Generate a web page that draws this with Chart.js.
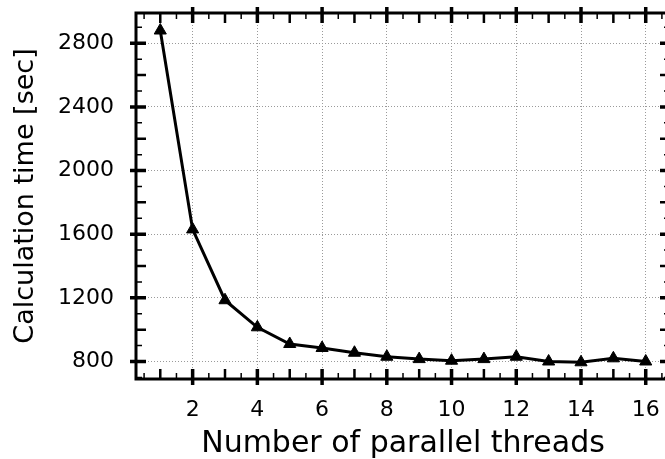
<!DOCTYPE html>
<html lang="en">
<head>
<meta charset="UTF-8">
<title>Calculation time vs threads</title>
<script src="https://cdn.jsdelivr.net/npm/chart.js"></script>
<style>
  * { margin: 0; padding: 0; box-sizing: border-box; }
  html, body { width: 665px; height: 459px; overflow: hidden; background: #fff; }
  #wrap { width: 680px; height: 459px; }
</style>
</head>
<body>
<div id="wrap"><canvas id="chart" width="680" height="459"></canvas></div>
<script>
// data
const threads = [1, 2, 3, 4, 5, 6, 7, 8, 9, 10, 11, 12, 13, 14, 15, 16];
const calcTime = [2880, 1630, 1185, 1015, 910, 885, 855, 830, 815, 805, 815, 830, 800, 795, 820, 800];

const xTickLabels = [2, 4, 6, 8, 10, 12, 14, 16];
const yTickLabels = [800, 1200, 1600, 2000, 2400, 2800];

const FONT = "'DejaVu Sans', sans-serif";

// gnuplot-style frame with inward/outward ticks on all four sides
const framePlugin = {
  id: 'frame',
  afterDraw(chart) {
    const { ctx, chartArea: a, scales: { x, y } } = chart;
    ctx.save();
    ctx.strokeStyle = '#000';
    ctx.lineCap = 'butt';

    for (let v = 0.5; v <= 16.5; v += 0.5) {
      const px = x.getPixelForValue(v);
      let w, inLen, outLen;
      if (v % 2 === 0) { w = 3.5; inLen = 10; outLen = 6; }
      else if (v % 1 === 0) { w = 2.5; inLen = 10; outLen = 0; }
      else { w = 1.5; inLen = 6; outLen = 0; }
      ctx.lineWidth = w;
      ctx.beginPath();
      ctx.moveTo(px, a.bottom + outLen); ctx.lineTo(px, a.bottom - inLen);
      ctx.moveTo(px, a.top - outLen); ctx.lineTo(px, a.top + inLen);
      ctx.stroke();
    }

    for (let v = 700; v <= 2900; v += 100) {
      const py = y.getPixelForValue(v);
      let w, inLen, outLen;
      if (v % 400 === 0) { w = 3.5; inLen = 10; outLen = 6; }
      else if (v % 200 === 0) { w = 2.5; inLen = 10; outLen = 0; }
      else { w = 1.5; inLen = 6; outLen = 0; }
      ctx.lineWidth = w;
      ctx.beginPath();
      ctx.moveTo(a.left - outLen, py); ctx.lineTo(a.left + inLen, py);
      ctx.moveTo(a.right + outLen, py); ctx.lineTo(a.right - inLen, py);
      ctx.stroke();
    }

    ctx.lineWidth = 3;
    ctx.strokeRect(a.left, a.top, a.right - a.left, a.bottom - a.top);
    ctx.restore();
  }
};

new Chart(document.getElementById('chart').getContext('2d'), {
  type: 'line',
  data: {
    datasets: [{
      data: threads.map((t, i) => ({ x: t, y: calcTime[i] })),
      borderColor: '#000',
      backgroundColor: '#000',
      borderWidth: 3,
      pointStyle: 'triangle',
      pointRadius: 7,
      pointBorderWidth: 1,
      tension: 0
    }]
  },
  options: {
    responsive: false,
    animation: false,
    layout: { padding: { top: 13, right: 10, left: 0, bottom: 0 } },
    plugins: { legend: { display: false }, tooltip: { enabled: false } },
    scales: {
      x: {
        type: 'linear',
        min: 0.25,
        max: 16.75,
        afterBuildTicks: s => { s.ticks = xTickLabels.map(v => ({ value: v })); },
        afterFit: s => { s.height = 80; s.paddingLeft = 0; s.paddingRight = 0; },
        grid: { color: '#9a9a9a', lineWidth: 1, drawTicks: false },
        border: { display: false, dash: [1, 2] },
        ticks: { color: '#000', padding: 18, maxRotation: 0, font: { family: FONT, size: 22 }, callback: v => String(v) },
        title: {
          display: true,
          text: 'Number of parallel threads',
          color: '#000',
          font: { family: FONT, size: 30, lineHeight: 1 },
          padding: { top: 0, bottom: 0 }
        }
      },
      y: {
        min: 690,
        max: 2990,
        afterBuildTicks: s => { s.ticks = yTickLabels.map(v => ({ value: v })); },
        afterFit: s => { s.width = 136; s.paddingTop = 0; s.paddingBottom = 0; },
        grid: { color: '#9a9a9a', lineWidth: 1, drawTicks: false },
        border: { display: false, dash: [1, 2] },
        ticks: { color: '#000', padding: 22, font: { family: FONT, size: 22 }, callback: v => String(v) },
        title: {
          display: true,
          text: 'Calculation time [sec]',
          color: '#000',
          font: { family: FONT, size: 27, lineHeight: 1 },
          padding: { top: 12, bottom: 0 }
        }
      }
    }
  },
  plugins: [framePlugin]
});
</script>
</body>
</html>
